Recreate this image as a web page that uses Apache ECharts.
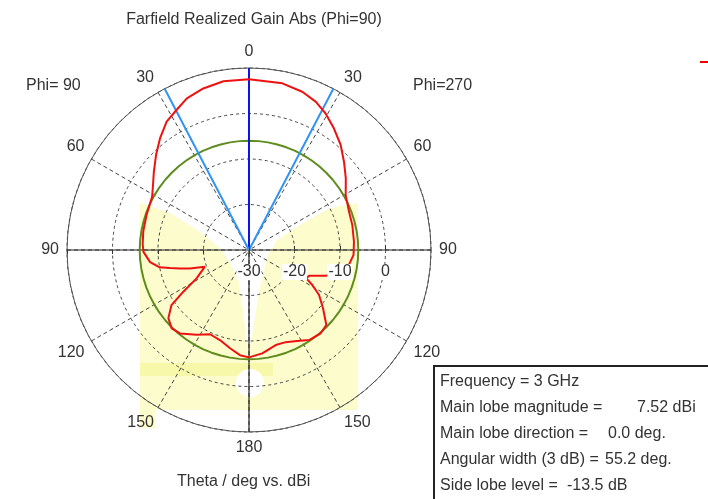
<!DOCTYPE html>
<html><head><meta charset="utf-8">
<script src="https://cdn.jsdelivr.net/npm/echarts@6/dist/echarts.min.js"></script>
<style>html,body{margin:0;padding:0;background:#fff}#c{width:708px;height:499px}</style>
</head><body><div id="c"></div>
<script>
// ---- data ----
const titleText = 'Farfield Realized Gain Abs (Phi=90)';
const leftLabel = 'Phi= 90';
const rightLabel = 'Phi=270';
const axisTitle = 'Theta / deg vs. dBi';
const radiusTicks = [-30, -20, -10, 0, 10];
const angleTickStep = 30;
// Phi = 90 half (left side), theta in degrees, gain in dBi
const thetaLeft = [0, 8.6, 15.8, 22.3, 27.6, 32.7, 38.5, 44.4, 50.5, 55.8, 61.2, 71, 80, 87, 91, 97, 101, 102.8, 105, 107.4, 110.8, 118.4, 122.4, 125.4, 130.2, 135.4, 140.4, 148.4, 155.2, 162.1, 169.1, 175.1, 180];
const gainLeft  = [7.52, 7.5, 6.9, 6.0, 4.6, 3.5, 1.4, -0.8, -2.9, -4.5, -5.7, -6.2, -6.4, -6.6, -6.8, -8.1, -10.0, -12.2, -14.3, -16.4, -19.6, -16.9, -12.9, -9.1, -6.8, -5.8, -6.2, -8.1, -9.6, -9.2, -8.0, -6.8, -6.4];
// Phi = 270 half (right side)
const thetaRight = [0, 11.3, 18.6, 24.2, 27.6, 29.3, 34.9, 41.1, 47.1, 53.4, 60.4, 69, 76.4, 85.5, 92.7, 98.5, 104.5, 108.5, 113.2, 116.3, 118.9, 122.7, 128.2, 134.1, 139.3, 146.3, 152.2, 158.3, 164.3, 172.7, 180];
const gainRight  = [7.52, 7.36, 6.7, 5.74, 4.8, 4.4, 2.6, 0.64, -1.5, -3.5, -5.56, -6.46, -6.64, -6.86, -7.0, -7.8, -9.56, -12.2, -15.65, -15.95, -14.1, -11.7, -9.3, -6.33, -5.85, -6.2, -7.4, -8.2, -8.3, -7.1, -6.4];
const mainLobeMagnitude = 7.52;
const mainLobeDirection = 0.0;
const angularWidth = 55.2;
const sideLobeLevel = -13.5;
const infoLabels = ['Frequency = 3 GHz', 'Main lobe magnitude =', 'Main lobe direction =', 'Angular width (3 dB) =', 'Side lobe level ='];
const infoValues = ['', '7.52 dBi', '0.0 deg.', '55.2 deg.', '-13.5 dB'];

// ---- build ----
const rMin = radiusTicks[0], rMax = radiusTicks[radiusTicks.length - 1];
const redData = [];
for (let i = thetaLeft.length - 1; i >= 0; i--) redData.push([gainLeft[i], thetaLeft[i]]);
for (let i = 0; i < thetaRight.length; i++) redData.push([gainRight[i], 360 - thetaRight[i]]);
const sllAbs = mainLobeMagnitude + sideLobeLevel;
const greenData = [];
for (let a = 0; a <= 360; a += 5) greenData.push([sllAbs, a]);
const half = angularWidth / 2;

const FONT = 'Liberation Sans';
const TXT = '#333';
const C = [249, 250], R = 182;

function polarAxes(idx, start, opts) {
  return {
    angle: {polarIndex: idx, type: 'value', min: 0, max: 360, startAngle: start, clockwise: false, show: false},
    radius: Object.assign({polarIndex: idx, type: 'value', min: rMin, max: rMax, interval: 10, z: 6,
      splitLine: {show: false}, axisLine: {show: false},
      axisTick: {show: true, length: 4, lineStyle: {color: '#333', width: 1}}, axisLabel: {show: false}}, opts || {})
  };
}
const p1 = polarAxes(1, 0, {axisLabel: {show: true, margin: -30, fontFamily: FONT, fontSize: 16, color: TXT,
  backgroundColor: '#fff', padding: [0, 1], showMaxLabel: false,
  formatter: v => (v >= 10 ? '' : String(v))}});
const p2 = polarAxes(2, 180);

const lineSeries = (data, color, width, z) => ({
  type: 'line', coordinateSystem: 'polar', polarIndex: 0, data, symbol: 'none', smooth: false,
  lineStyle: {color, width}, z, silent: true, animation: false
});

const yellow = '#fcfccc';
const option = {
  backgroundColor: '#fff',
  animation: false,
  title: {text: titleText, left: 249, top: 7, textAlign: 'center',
    textStyle: {fontFamily: FONT, fontSize: 16, fontWeight: 'normal', color: TXT}},
  polar: [0, 1, 2].map(() => ({center: C, radius: R})),
  angleAxis: [
    {polarIndex: 0, type: 'value', min: 0, max: 360, interval: angleTickStep, startAngle: 90, clockwise: false,
      axisLine: {show: true, lineStyle: {color: '#555', width: 1}},
      axisTick: {show: false},
      axisLabel: {show: true, margin: 8, fontFamily: FONT, fontSize: 16, color: TXT,
        formatter: v => (v >= 360 ? '' : String(v <= 180 ? v : 360 - v))},
      splitLine: {show: true, lineStyle: {color: '#444', type: [4, 3], width: 1}}},
    p1.angle, p2.angle
  ],
  radiusAxis: [
    {polarIndex: 0, type: 'value', min: rMin, max: rMax, interval: 10,
      axisLine: {show: false}, axisTick: {show: false}, axisLabel: {show: false},
      splitLine: {show: true, lineStyle: {color: '#444', type: [3, 3], width: 1}}},
    p1.radius, p2.radius
  ],
  graphic: [
    {type: 'polygon', z: -10, silent: true, shape: {points: [[140,203],[150,206],[172,214],[200,232],[222,250],[238,278],[243,310],[248,355],[253,330],[258,297],[267,257],[277,240],[300,225],[330,208],[358,203],[358,410],[155,410],[155,428],[140,428]]}, style: {fill: yellow}},
    {type: 'rect', z: -9, silent: true, shape: {x: 140, y: 363, width: 133, height: 13}, style: {fill: '#f8f8aa'}},
    {type: 'circle', z: -8, silent: true, shape: {cx: 250, cy: 383, r: 14}, style: {fill: '#fff'}},
    {type: 'text', left: 26, top: 78, style: {text: leftLabel, font: '16px ' + FONT, fill: TXT}},
    {type: 'text', left: 413, top: 78, style: {text: rightLabel, font: '16px ' + FONT, fill: TXT}},
    {type: 'text', left: 177, top: 474, style: {text: axisTitle, font: '16px ' + FONT, fill: TXT}},
    {type: 'line', shape: {x1: 700, y1: 62, x2: 708, y2: 62}, style: {stroke: '#e00', lineWidth: 2}},
    {type: 'rect', shape: {x: 434, y: 366, width: 290, height: 150}, style: {fill: '#fff', stroke: '#222', lineWidth: 2}, z: 50},
    ...infoLabels.map((t, i) => ({type: 'text', z: 51, x: 440, y: 374 + i * 26, style: {text: t, font: '16px ' + FONT, fill: TXT}})),
    ...infoValues.map((t, i) => ({type: 'text', z: 51, x: [0, 637, 608, 605, 567][i], y: 374 + i * 26, style: {text: t, font: '16px ' + FONT, fill: TXT}}))
  ],
  series: [
    lineSeries([[rMax, 90], [rMin, 0], [rMax, 270]], '#222', 1.2, 2),
    lineSeries([[rMin, 0], [rMax, 180]], '#222', 1.2, 2),
    lineSeries(greenData, '#5e8c1e', 2, 3),
    lineSeries([[rMax, mainLobeDirection], [rMin, mainLobeDirection]], '#0a14e6', 2, 4),
    lineSeries([[rMax, half], [rMin, 0], [rMax, 360 - half]], '#3294f2', 2, 4),
    lineSeries(redData, '#ee1111', 2, 5)
  ]
};
echarts.init(document.getElementById('c'), null, {renderer: 'canvas'}).setOption(option);
</script></body></html>
